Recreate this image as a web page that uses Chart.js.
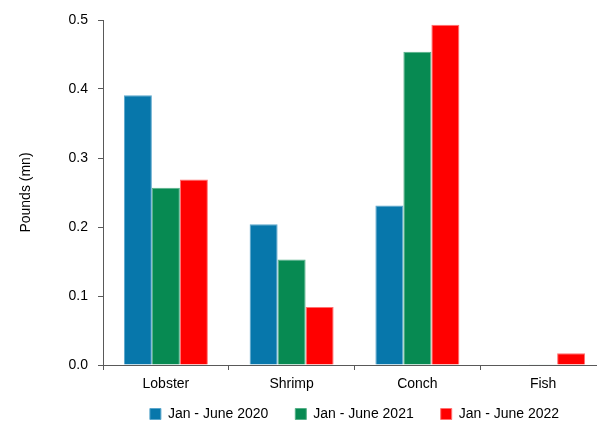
<!DOCTYPE html>
<html>
<head>
<meta charset="utf-8">
<script src="https://cdn.jsdelivr.net/npm/chart.js@4"></script>
<style>
  html, body { margin: 0; padding: 0; background: #fff; overflow: hidden; }
  #wrap { position: relative; width: 610px; height: 421px; }
</style>
</head>
<body>
<div id="wrap"><canvas id="catchChart" width="610" height="421"></canvas></div>
<script>
// chart data
const categories = ['Lobster', 'Shrimp', 'Conch', 'Fish'];
const seriesNames = ['Jan - June 2020', 'Jan - June 2021', 'Jan - June 2022'];
const values2020 = [0.391, 0.204, 0.231, 0];
const values2021 = [0.257, 0.153, 0.454, 0.001];
const values2022 = [0.269, 0.084, 0.493, 0.017];
const yMin = 0;
const yMax = 0.5;
const yStep = 0.1;
const yTitle = 'Pounds (mn)';

const colors = ['#0777ab', '#078a52', '#ff0000'];
const borders = ['#5aa6cc', '#55b088', '#ff7070'];
const axisColor = '#595959';
const font = { family: '"Liberation Sans", Arial, sans-serif', size: 14 };

// keep the legend compact vertically while keeping wide horizontal gaps
const legendFit = {
    id: 'legendFit',
    beforeLayout(chart) {
        const lg = chart.legend;
        if (lg && !lg._patched) {
            const orig = lg.fit.bind(lg);
            lg.fit = function () {
                orig();
                this.height = 28;
            };
            lg._patched = true;
        }
    },
    afterLayout(chart) {
        const lg = chart.legend;
        if (lg) {
            lg.top -= 13;
            lg.bottom = lg.top + 50;
            lg.left += 0;
            lg.right += 0;
        }
    }
};

const ctx = document.getElementById('catchChart').getContext('2d');
new Chart(ctx, {
    type: 'bar',
    data: {
        labels: categories,
        datasets: [values2020, values2021, values2022].map((vals, i) => ({
            label: seriesNames[i],
            data: vals,
            backgroundColor: colors[i],
            borderColor: borders[i],
            borderWidth: 1,
            barPercentage: 1,
            categoryPercentage: 0.668
        }))
    },
    options: {
        responsive: false,
        animation: false,
        layout: { padding: { left: 18, right: 4, top: 20, bottom: 0 } },
        plugins: {
            legend: {
                position: 'bottom',
                fullSize: false,
                labels: {
                    boxWidth: 11,
                    boxHeight: 11,
                    padding: 27,
                    color: '#000',
                    font: font
                }
            },
            tooltip: { enabled: false }
        },
        scales: {
            x: {
                afterFit: (scale) => { scale.height = 28; },
                grid: {
                    drawOnChartArea: false,
                    offset: true,
                    tickLength: 5,
                    color: axisColor
                },
                border: { color: axisColor },
                ticks: { color: '#000', font: font, padding: 6 }
            },
            y: {
                min: yMin,
                max: yMax,
                afterFit: (scale) => { scale.width = 85; },
                grid: {
                    drawOnChartArea: false,
                    tickLength: 5,
                    color: axisColor
                },
                border: { color: axisColor },
                ticks: {
                    stepSize: yStep,
                    color: '#000',
                    font: font,
                    padding: 10,
                    callback: (v) => Number(v).toFixed(1)
                },
                title: {
                    display: true,
                    text: yTitle,
                    color: '#000',
                    font: font,
                    padding: 0
                }
            }
        }
    },
    plugins: [legendFit]
});
</script>
</body>
</html>
